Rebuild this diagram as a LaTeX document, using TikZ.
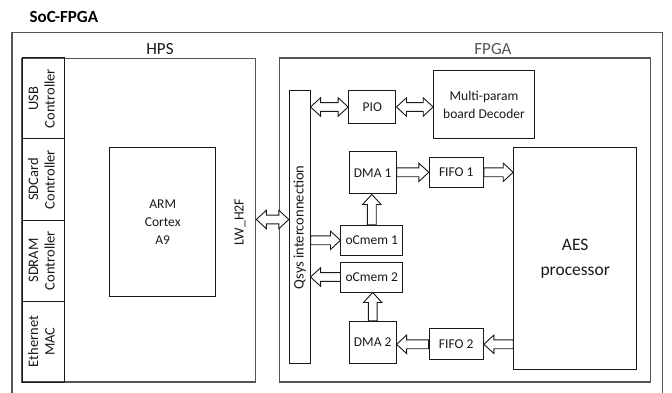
\documentclass[tikz,border=0pt]{standalone}
\usepackage{fontspec}
\usepackage{graphicx}
\setmainfont{Carlito}
\usetikzlibrary{calc}
\definecolor{ink}{RGB}{25,25,25}
\definecolor{frame}{RGB}{85,85,85}
\def\blkS{4.4pt}
\def\blkH{9.2pt}
\def\blkL{10pt}
\tikzset{
  box/.style={draw=ink, line width=1pt, inner sep=0pt, align=center, text=ink,
    font=\fontsize{13.5}{18}\selectfont},
  frm/.style={draw=frame, line width=1.2pt},
  side/.style={draw=ink, line width=1pt, inner sep=0pt, text=ink,
    font=\fontsize{14.5}{16.5}\selectfont, minimum width=42pt, minimum height=81pt},
  sarrow/.style={draw=ink, line width=0.9pt, fill=white, to path={
    let \p1=(\tikztostart), \p2=(\tikztotarget),
        \n1={veclen(\x2-\x1,\y2-\y1)},
        \n2={(\x2-\x1)/\n1}, \n3={(\y2-\y1)/\n1}
    in ({\x1-(\n3)*\blkS},{\y1+(\n2)*\blkS})
    -- ({\x2-(\n2)*\blkL-(\n3)*\blkS},{\y2-(\n3)*\blkL+(\n2)*\blkS})
    -- ({\x2-(\n2)*\blkL-(\n3)*\blkH},{\y2-(\n3)*\blkL+(\n2)*\blkH})
    -- (\p2)
    -- ({\x2-(\n2)*\blkL+(\n3)*\blkH},{\y2-(\n3)*\blkL-(\n2)*\blkH})
    -- ({\x2-(\n2)*\blkL+(\n3)*\blkS},{\y2-(\n3)*\blkL-(\n2)*\blkS})
    -- ({\x1+(\n3)*\blkS},{\y1-(\n2)*\blkS})
    -- cycle}},
  darrow/.style={draw=ink, line width=0.9pt, fill=white, to path={
    let \p1=(\tikztostart), \p2=(\tikztotarget),
        \n1={veclen(\x2-\x1,\y2-\y1)},
        \n2={(\x2-\x1)/\n1}, \n3={(\y2-\y1)/\n1}
    in (\p1)
    -- ({\x1+(\n2)*\blkL-(\n3)*\blkH},{\y1+(\n3)*\blkL+(\n2)*\blkH})
    -- ({\x1+(\n2)*\blkL-(\n3)*\blkS},{\y1+(\n3)*\blkL+(\n2)*\blkS})
    -- ({\x2-(\n2)*\blkL-(\n3)*\blkS},{\y2-(\n3)*\blkL+(\n2)*\blkS})
    -- ({\x2-(\n2)*\blkL-(\n3)*\blkH},{\y2-(\n3)*\blkL+(\n2)*\blkH})
    -- (\p2)
    -- ({\x2-(\n2)*\blkL+(\n3)*\blkH},{\y2-(\n3)*\blkL-(\n2)*\blkH})
    -- ({\x2-(\n2)*\blkL+(\n3)*\blkS},{\y2-(\n3)*\blkL-(\n2)*\blkS})
    -- ({\x1+(\n2)*\blkL+(\n3)*\blkS},{\y1+(\n3)*\blkL-(\n2)*\blkS})
    -- ({\x1+(\n2)*\blkL+(\n3)*\blkH},{\y1+(\n3)*\blkL-(\n2)*\blkH})
    -- cycle}},
}
\newcommand{\vtxt}[1]{\rotatebox{90}{\begin{tabular}{@{}c@{}}#1\end{tabular}}}
\begin{document}
\begin{tikzpicture}[x=1pt, y=-1pt]
\useasboundingbox (0,0) rectangle (672,393);
% title
\node[font=\bfseries\fontsize{17}{20}\selectfont, text=black, anchor=west, inner sep=0pt] (title) at (29.5,17) {SoC-FPGA};
% outer frame (open at the bottom)
\draw[frm] (12,393) -- (12,32.3) -- (662.5,32.3) -- (662.5,393);
% HPS and FPGA regions
\node[frm, inner sep=0pt, minimum width=233.7pt, minimum height=323.7pt] (hps) at (138.85,220.15) {};
\node[frm, inner sep=0pt, minimum width=371pt, minimum height=324pt] (fpga) at (464.8,220) {};
\node[text=ink, font=\fontsize{17}{20}\selectfont, inner sep=0pt] (hpslbl) at (160,49) {HPS};
\node[text=frame, font=\fontsize{17}{20}\selectfont, inner sep=0pt] (fpgalbl) at (493,49) {FPGA};
% HPS side controllers
\node[side] (usb) at (43,98.5) {\vtxt{USB\\Controller}};
\node[side] (sdc) at (43,179.5) {\vtxt{SDCard\\Controller}};
\node[side] (sdr) at (43,260.5) {\vtxt{SDRAM\\Controller}};
\node[side] (eth) at (43,341.5) {\vtxt{Ethernet\\MAC}};
% ARM
\node[box, minimum width=106pt, minimum height=148.6pt] (arm) at (162.7,222) {ARM\\Cortex\\A9};
\node[text=ink, font=\fontsize{14}{16}\selectfont, inner sep=0pt] (lw) at (240,222) {\rotatebox{90}{LW\_H2F}};
% FPGA blocks
\node[box, minimum width=20.7pt, minimum height=273.3pt, font=\fontsize{14.5}{16}\selectfont] (qsys) at (299.7,227.3) {\rotatebox{90}{Qsys interconnection}};
\node[box, minimum width=47.3pt, minimum height=32.6pt] (pio) at (372.3,107) {PIO};
\node[box, minimum width=100.6pt, minimum height=68.4pt] (mpd) at (484,104.5) {Multi-param\\board Decoder};
\node[box, minimum width=46.7pt, minimum height=42.3pt] (dma1) at (372.7,172.8) {DMA 1};
\node[box, minimum width=54pt, minimum height=30pt] (fifo1) at (456.3,172.3) {FIFO 1};
\node[box, minimum width=123pt, minimum height=222pt, font=\fontsize{17.5}{25}\selectfont] (aes) at (575.2,258.7) {AES\\processor};
\node[box, minimum width=61.7pt, minimum height=30pt] (ocm1) at (371.8,240.3) {oCmem 1};
\node[box, minimum width=61.7pt, minimum height=30pt] (ocm2) at (371.8,277) {oCmem 2};
\node[box, minimum width=46.7pt, minimum height=42.4pt] (dma2) at (372.7,342.5) {DMA 2};
\node[box, minimum width=54.3pt, minimum height=30.7pt] (fifo2) at (456.2,344.3) {FIFO 2};
% connectors
\draw[darrow] (hps.east |- 0,219.5) to (qsys.west |- 0,219.5);
\draw[darrow] (qsys.east |- pio.west) to (pio.west);
\draw[darrow] (pio.east) to (mpd.west |- pio.east);
\draw[sarrow] (dma1.east |- fifo1.west) to (fifo1.west);
\draw[sarrow] (fifo1.east) to (aes.west |- fifo1.east);
\draw[sarrow] (ocm1.north) to (ocm1.north |- dma1.south);
\draw[sarrow] (qsys.east |- ocm1.west) to (ocm1.west);
\draw[sarrow] (ocm2.west) to (qsys.east |- ocm2.west);
\draw[sarrow] (dma2.north) to (dma2.north |- ocm2.south);
\draw[sarrow] (fifo2.west) to (dma2.east |- fifo2.west);
\draw[sarrow] (aes.west |- fifo2.east) to (fifo2.east);
\end{tikzpicture}
\end{document}
